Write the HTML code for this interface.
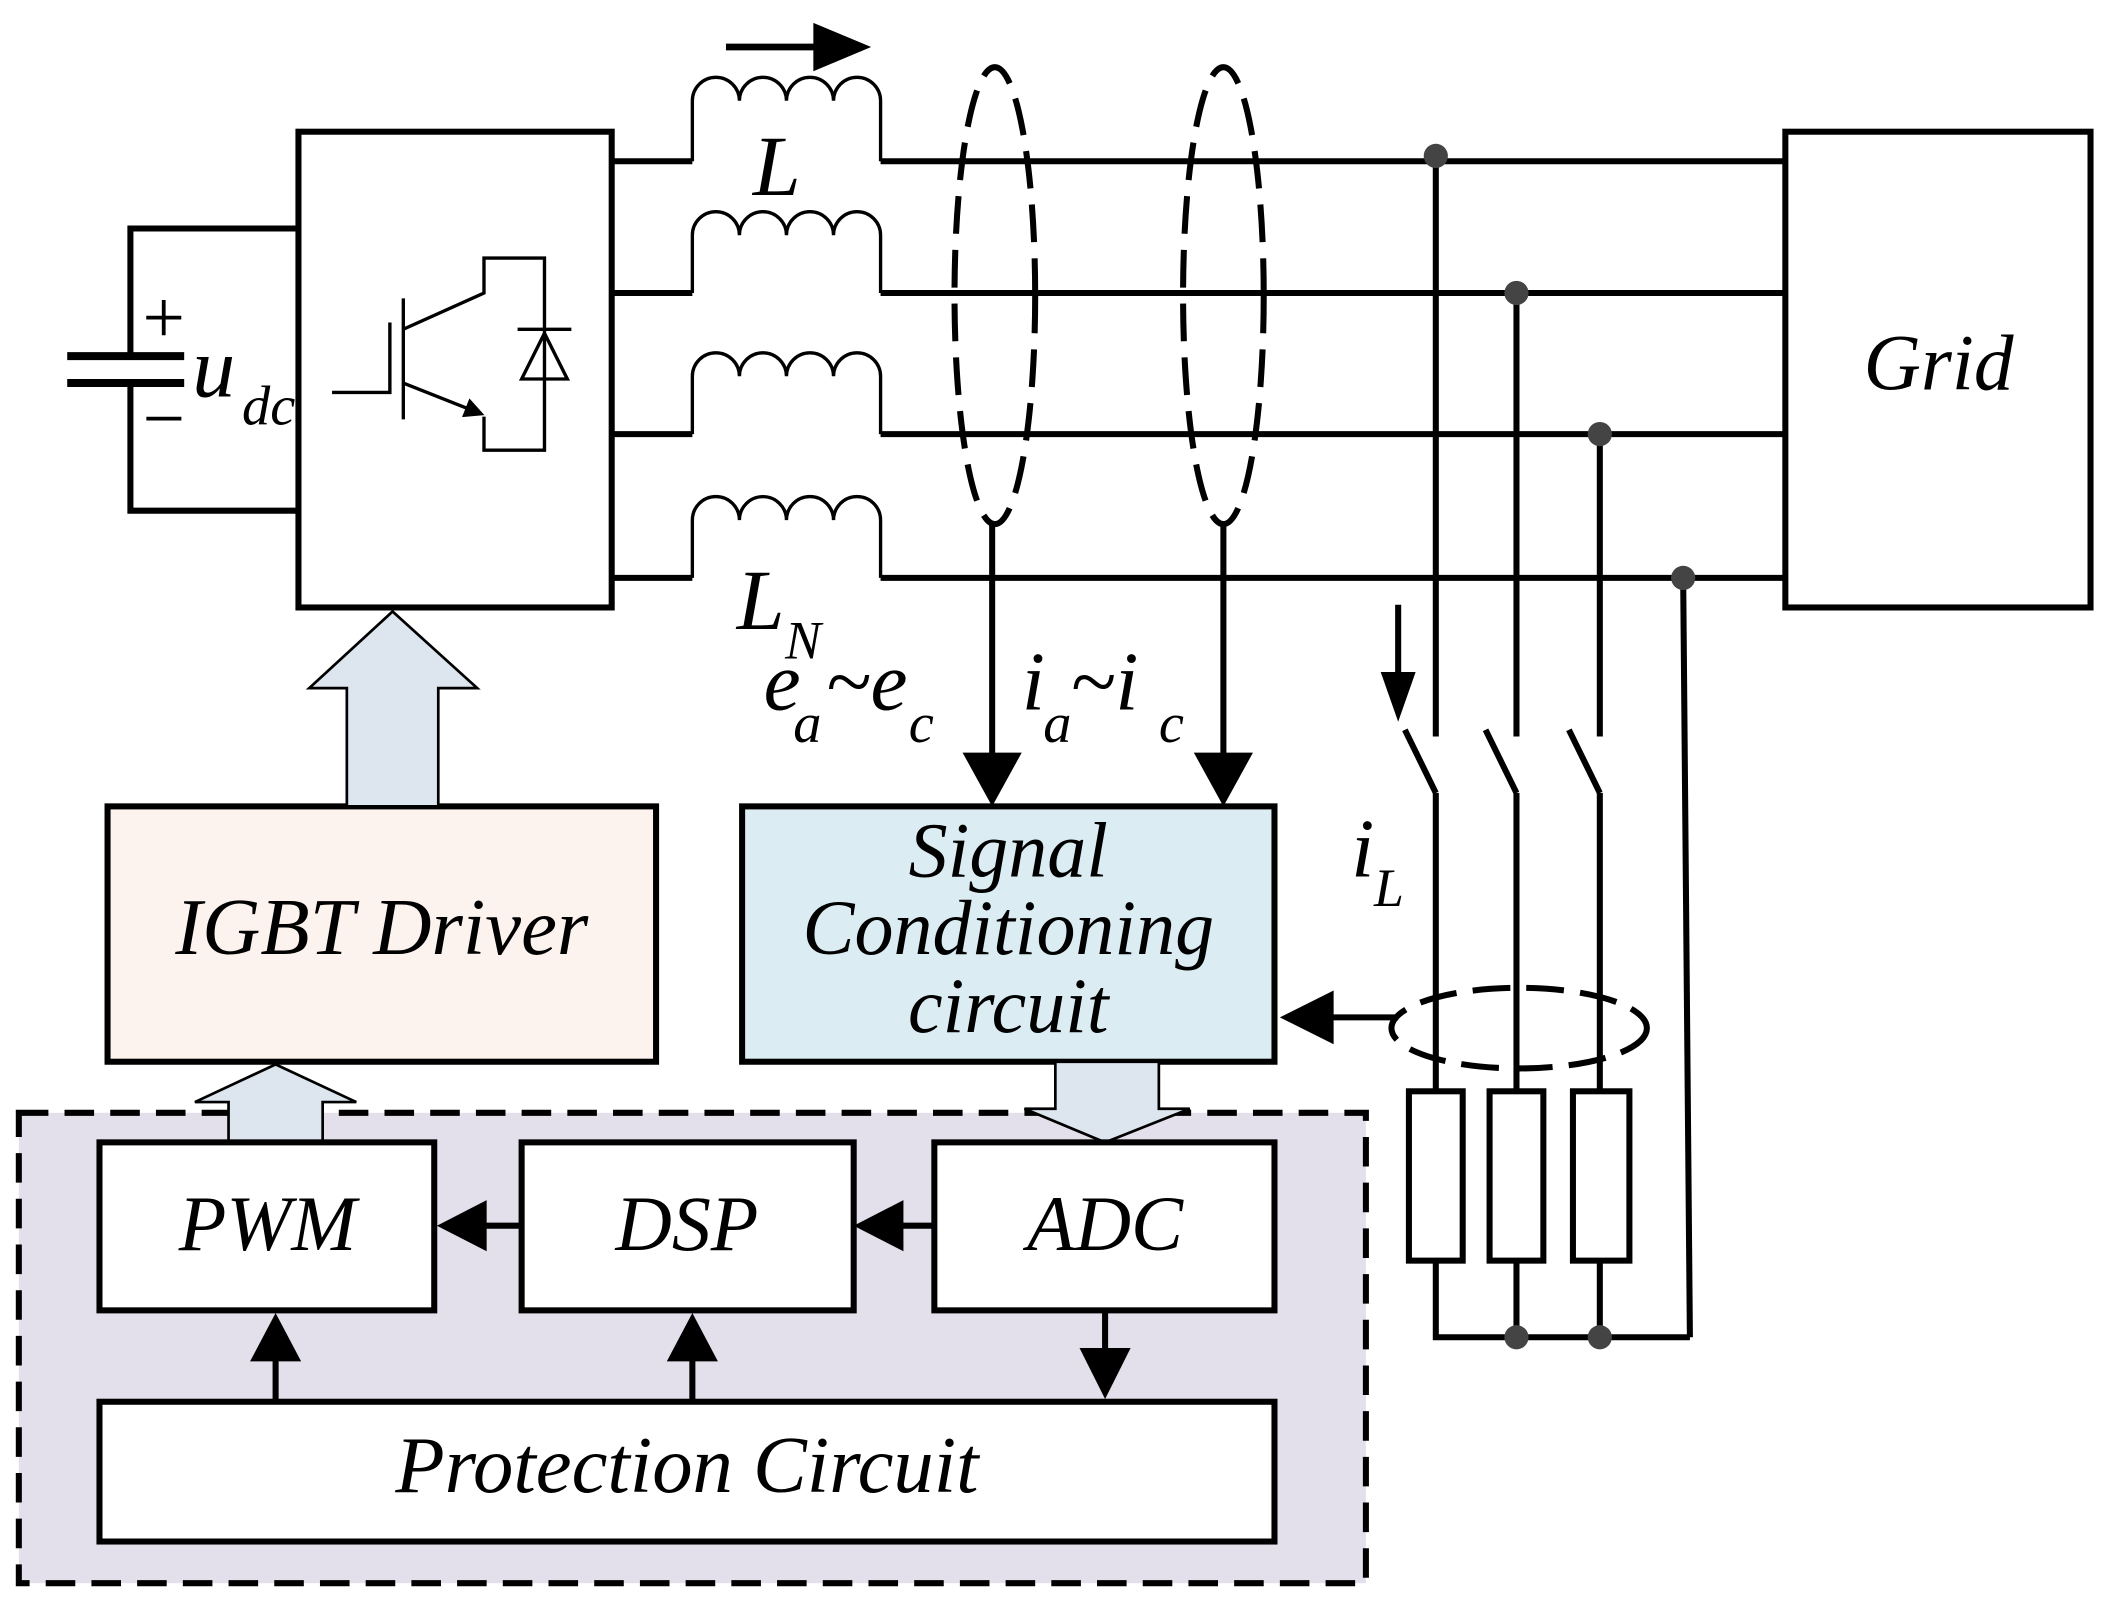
<!DOCTYPE html>
<html><head><meta charset="utf-8"><style>html,body{margin:0;padding:0;background:#fff}svg{display:block}</style></head>
<body>
<svg width="2108" height="1602" viewBox="0 0 1568 1192" preserveAspectRatio="none" xmlns="http://www.w3.org/2000/svg">
<defs>
<marker id="ah" markerWidth="6" markerHeight="6" refX="5" refY="3" orient="auto" markerUnits="strokeWidth"><path d="M0,0 L6,3 L0,6 Z" fill="#000"/></marker>
</defs>
<g fill="none" stroke="#000" stroke-width="4.5">
<rect x="14" y="828" width="1002" height="350" fill="#e3e0ec" stroke-dasharray="22,12"/>
<rect x="222" y="98" width="233" height="354" fill="#fff"/>
<polyline points="222,170 97,170 97,265"/>
<polyline points="97,285 97,380 222,380"/>
<line x1="50" y1="265" x2="137" y2="265" stroke-width="6"/>
<line x1="50" y1="285" x2="137" y2="285" stroke-width="6"/>
<g stroke-width="2.5">
<line x1="300" y1="222" x2="300" y2="312"/>
<polyline points="290,240 290,292 247,292"/>
<polyline points="300,245 360,218 360,192 405,192 405,335 360,335 360,310"/>
<line x1="300" y1="285" x2="358" y2="308" marker-end="url(#ah)"/>
<path d="M385,245 L425,245 M388,282 L405,248 L422,282 Z"/>
</g>
<g>
<line x1="455" y1="120" x2="515" y2="120"/><line x1="655" y1="120" x2="1330" y2="120"/>
<line x1="455" y1="218" x2="515" y2="218"/><line x1="655" y1="218" x2="1330" y2="218"/>
<line x1="455" y1="323" x2="515" y2="323"/><line x1="655" y1="323" x2="1330" y2="323"/>
<line x1="455" y1="430" x2="515" y2="430"/><line x1="655" y1="430" x2="1330" y2="430"/>
</g>
<g stroke-width="2.5">
<path d="M515,120 V75 a17.5,17.5 0 0 1 35,0 a17.5,17.5 0 0 1 35,0 a17.5,17.5 0 0 1 35,0 a17.5,17.5 0 0 1 35,0 V120"/>
<path d="M515,218 V175 a17.5,17.5 0 0 1 35,0 a17.5,17.5 0 0 1 35,0 a17.5,17.5 0 0 1 35,0 a17.5,17.5 0 0 1 35,0 V218"/>
<path d="M515,323 V280 a17.5,17.5 0 0 1 35,0 a17.5,17.5 0 0 1 35,0 a17.5,17.5 0 0 1 35,0 a17.5,17.5 0 0 1 35,0 V323"/>
<path d="M515,430 V387 a17.5,17.5 0 0 1 35,0 a17.5,17.5 0 0 1 35,0 a17.5,17.5 0 0 1 35,0 a17.5,17.5 0 0 1 35,0 V430"/>
</g>
<line x1="540" y1="35" x2="625" y2="35" stroke-width="5"/>
<path d="M605,17 L648,35 L605,53 Z" fill="#000" stroke="none"/>
<rect x="1328" y="98" width="227" height="354" fill="#fff"/>
<ellipse cx="740" cy="220" rx="30" ry="170" stroke-dasharray="28,12"/>
<ellipse cx="910" cy="220" rx="30" ry="170" stroke-dasharray="28,12"/>
<line x1="738" y1="390" x2="738" y2="565"/>
<path d="M716,560 L738,600 L760,560 Z" fill="#000" stroke="none"/>
<line x1="910" y1="390" x2="910" y2="565"/>
<path d="M888,560 L910,600 L932,560 Z" fill="#000" stroke="none"/>
<line x1="1068" y1="115" x2="1068" y2="548"/>
<line x1="1128" y1="218" x2="1128" y2="548"/>
<line x1="1190" y1="323" x2="1190" y2="548"/>
<line x1="1252" y1="430" x2="1257" y2="995"/>
<line x1="1045" y1="543" x2="1068" y2="590"/>
<line x1="1105" y1="543" x2="1128" y2="590"/>
<line x1="1167" y1="543" x2="1190" y2="590"/>
<line x1="1068" y1="590" x2="1068" y2="812"/>
<line x1="1128" y1="590" x2="1128" y2="812"/>
<line x1="1190" y1="590" x2="1190" y2="812"/>
<rect x="1048" y="812" width="40" height="126"/>
<rect x="1108" y="812" width="40" height="126"/>
<rect x="1170" y="812" width="42" height="126"/>
<polyline points="1068,938 1068,995 1257,995"/>
<line x1="1128" y1="938" x2="1128" y2="995"/>
<line x1="1190" y1="938" x2="1190" y2="995"/>
<line x1="1040" y1="450" x2="1040" y2="505"/>
<path d="M1027,500 L1040,537 L1053,500 Z" fill="#000" stroke="none"/>
<ellipse cx="1130" cy="765" rx="95" ry="30" stroke-dasharray="28,12"/>
<line x1="1040" y1="757" x2="985" y2="757"/>
<path d="M992,737 L952,757 L992,777 Z" fill="#000" stroke="none"/>
<rect x="552" y="600" width="396" height="190" fill="#dbedf3"/>
<rect x="80" y="600" width="408" height="190" fill="#fdf3ee"/>
<path d="M258,600 V512 H230 L292,455 L355,512 H326 V600 Z" fill="#dde5ef" stroke-width="2"/>
<path d="M170,850 V820 H145 L205,792 L265,820 H240 V850 Z" fill="#dde5ef" stroke-width="2"/>
<path d="M785,790 V825 H762 L822,850 L885,825 H862 V790 Z" fill="#dde5ef" stroke-width="2"/>
<rect x="74" y="850" width="249" height="125" fill="#fff"/>
<rect x="388" y="850" width="247" height="125" fill="#fff"/>
<rect x="695" y="850" width="253" height="125" fill="#fff"/>
<rect x="74" y="1043" width="874" height="104" fill="#fff"/>
<line x1="388" y1="912" x2="355" y2="912"/>
<path d="M362,893 L325,912 L362,931 Z" fill="#000" stroke="none"/>
<line x1="695" y1="912" x2="665" y2="912"/>
<path d="M672,893 L635,912 L672,931 Z" fill="#000" stroke="none"/>
<line x1="205" y1="1043" x2="205" y2="1005"/>
<path d="M186,1013 L205,977 L224,1013 Z" fill="#000" stroke="none"/>
<line x1="515" y1="1043" x2="515" y2="1005"/>
<path d="M496,1013 L515,977 L534,1013 Z" fill="#000" stroke="none"/>
<line x1="822" y1="975" x2="822" y2="1008"/>
<path d="M803,1003 L822,1041 L841,1003 Z" fill="#000" stroke="none"/>
</g>
<g fill="#444">
<circle cx="1068" cy="116" r="9"/><circle cx="1128" cy="218" r="9"/><circle cx="1190" cy="323" r="9"/><circle cx="1252" cy="430" r="9"/>
<circle cx="1128" cy="995" r="9"/><circle cx="1190" cy="995" r="9"/>
</g>
<g font-family="Liberation Serif, serif" font-style="italic" fill="#000">
<text x="106" y="255" font-size="56" font-style="normal">+</text>
<text x="106" y="330" font-size="56" font-style="normal">−</text>
<text x="143" y="295" font-size="64">u</text><text x="180" y="316" font-size="42">dc</text>
<text x="560" y="145" font-size="64">L</text>
<text x="548" y="468" font-size="64">L</text><text x="584" y="490" font-size="40">N</text>
<text x="568" y="528" font-size="62">e</text><text x="590" y="552" font-size="42">a</text><text x="614" y="528" font-size="62">~e</text><text x="676" y="552" font-size="42">c</text>
<text x="760" y="528" font-size="62">i</text><text x="776" y="552" font-size="42">a</text><text x="796" y="528" font-size="62">~i</text><text x="862" y="552" font-size="42">c</text>
<text x="1005" y="652" font-size="62">i</text><text x="1022" y="674" font-size="40">L</text>
<text x="1442" y="290" font-size="59" text-anchor="middle">Grid</text>
<text x="284" y="710" font-size="60" text-anchor="middle">IGBT Driver</text>
<g font-size="58" text-anchor="middle">
<text x="750" y="652">Signal</text><text x="750" y="710">Conditioning</text><text x="750" y="768">circuit</text>
</g>
<text x="199" y="930" font-size="58" text-anchor="middle">PWM</text>
<text x="511" y="930" font-size="58" text-anchor="middle">DSP</text>
<text x="822" y="930" font-size="58" text-anchor="middle">ADC</text>
<text x="511" y="1110" font-size="60" text-anchor="middle">Protection Circuit</text>
</g>
</svg>
</body></html>
